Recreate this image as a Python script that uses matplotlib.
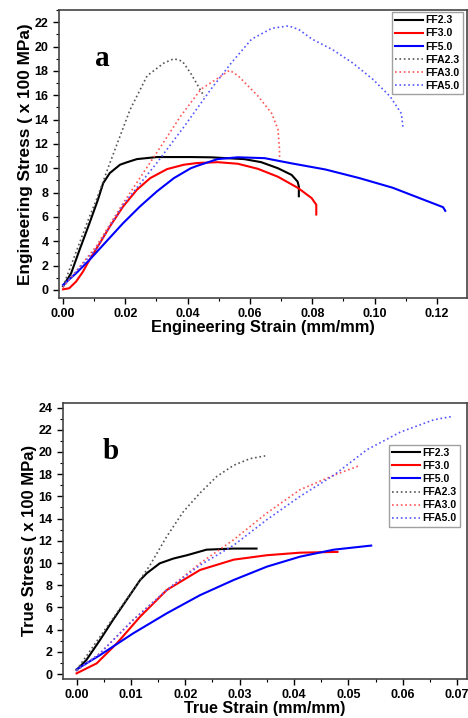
import numpy as np
import matplotlib
matplotlib.use("Agg")
import matplotlib.pyplot as plt
from matplotlib.ticker import MultipleLocator

plt.rcParams['font.family'] = ['Liberation Sans', 'DejaVu Sans']
plt.rcParams['font.weight'] = 'bold'

# ---- engineering curves (panel a) ----
eng_ff23_x = [0.0, 0.0026, 0.0053, 0.0085, 0.0112, 0.0129, 0.015, 0.0183, 0.0204, 0.0237, 0.0301, 0.041,
              0.0474, 0.0582, 0.0636, 0.069, 0.0734, 0.0753, 0.0757, 0.0757]
eng_ff23_y = [0.3, 1.37, 3.29, 5.49, 7.41, 8.78, 9.6, 10.29, 10.48, 10.75, 10.92, 10.92,
              10.9, 10.75, 10.5, 10.0, 9.45, 8.9, 8.5, 7.7]
eng_ff30_x = [0.0, 0.002, 0.0042, 0.0064, 0.0085, 0.0118, 0.015, 0.0193, 0.0237, 0.028, 0.0334, 0.0388,
              0.0431, 0.0496, 0.0561, 0.0626, 0.069, 0.0755, 0.0798, 0.0813, 0.0813]
eng_ff30_y = [0.05, 0.14, 0.69, 1.5, 2.47, 3.84, 5.2, 6.86, 8.23, 9.19, 9.93, 10.29,
              10.43, 10.5, 10.37, 9.95, 9.3, 8.37, 7.55, 7.0, 6.2]
eng_ff50_x = [0.0, 0.0042, 0.0085, 0.0139, 0.0193, 0.0247, 0.0301, 0.0356, 0.041, 0.0431, 0.0496,
              0.0561, 0.0647, 0.0734, 0.0842, 0.095, 0.1058, 0.1144, 0.122, 0.1227]
eng_ff50_y = [0.41, 1.37, 2.47, 3.98, 5.49, 6.86, 8.09, 9.19, 10.0, 10.2, 10.75,
              10.9, 10.83, 10.4, 9.9, 9.2, 8.4, 7.55, 6.8, 6.5]
eng_ffa23_x = [0.0, 0.0085, 0.0107, 0.015, 0.0215, 0.027, 0.0324, 0.0356, 0.0383, 0.041, 0.0453]
eng_ffa23_y = [0.27, 6.03, 7.4, 10.4, 14.8, 17.6, 18.65, 19.0, 18.8, 17.8, 15.9]
eng_ffa30_x = [0.0, 0.0107, 0.0193, 0.030, 0.0378, 0.0443, 0.0497, 0.0535, 0.0562, 0.0627, 0.067,
               0.069, 0.0695, 0.0695]
eng_ffa30_y = [0.2, 3.6, 7.13, 11.25, 14.3, 16.5, 17.4, 18.05, 17.6, 15.9, 14.5,
               13.2, 11.5, 10.8]
eng_ffa50_x = [0.0, 0.0107, 0.0193, 0.030, 0.0388, 0.0475, 0.054, 0.0605, 0.067, 0.0724, 0.0757, 0.080,
               0.0865, 0.093, 0.0995, 0.105, 0.1086, 0.1092]
eng_ffa50_y = [0.3, 3.4, 7.0, 10.4, 13.4, 16.5, 18.65, 20.6, 21.5, 21.7, 21.4, 20.6,
               19.75, 18.65, 17.3, 15.9, 14.5, 13.2]

# ---- true curves (panel b) ----
true_ff23_x = [0.0, 0.0018, 0.0043, 0.0067, 0.0092, 0.0117, 0.0129, 0.0153, 0.0178, 0.0203, 0.0239,
               0.0288, 0.0331]
true_ff23_y = [0.36, 1.26, 3.06, 4.87, 6.67, 8.47, 9.07, 9.97, 10.4, 10.7, 11.2,
               11.3, 11.3]
true_ff30_x = [0.0, 0.0037, 0.0074, 0.0117, 0.0166, 0.0227, 0.0289, 0.035, 0.0411, 0.048]
true_ff30_y = [0.06, 0.96, 2.76, 5.17, 7.57, 9.37, 10.3, 10.7, 10.93, 11.0]
true_ff50_x = [0.0, 0.0043, 0.0104, 0.0166, 0.0227, 0.0289, 0.035, 0.0411, 0.0473, 0.0542]
true_ff50_y = [0.42, 1.7, 3.66, 5.47, 7.1, 8.47, 9.67, 10.57, 11.2, 11.57]
true_ffa23_x = [0.0, 0.0043, 0.0104, 0.0135, 0.0166, 0.0196, 0.0227, 0.0258, 0.0289, 0.0319, 0.0347]
true_ffa23_y = [0.36, 3.36, 7.57, 9.8, 12.4, 14.6, 16.3, 17.8, 18.8, 19.4, 19.65]
true_ffa30_x = [0.0, 0.0043, 0.0104, 0.0166, 0.0227, 0.0289, 0.035, 0.0411, 0.0473, 0.0522]
true_ffa30_y = [0.3, 1.86, 4.87, 7.57, 9.97, 12.1, 14.5, 16.6, 17.9, 18.8]
true_ffa50_x = [0.0, 0.0043, 0.0104, 0.0166, 0.0227, 0.0289, 0.035, 0.0411, 0.0473, 0.0534, 0.0596,
                0.0657, 0.0691]
true_ffa50_y = [0.3, 1.86, 4.87, 7.57, 9.8, 11.6, 13.9, 16.0, 17.9, 20.2, 21.8,
                22.9, 23.2]

labels = ['FF2.3', 'FF3.0', 'FF5.0', 'FFA2.3', 'FFA3.0', 'FFA5.0']
colors = ['black', 'red', 'blue', '#555555', '#ff5555', '#5555ff']
styles = ['-', '-', '-', ':', ':', ':']


def style_axes(ax, xmaj, ymaj, xlim, ylim):
    ax.set_xlim(*xlim)
    ax.set_ylim(*ylim)
    ax.xaxis.set_major_locator(MultipleLocator(xmaj))
    ax.xaxis.set_minor_locator(MultipleLocator(xmaj / 2))
    ax.yaxis.set_major_locator(MultipleLocator(ymaj))
    ax.yaxis.set_minor_locator(MultipleLocator(ymaj / 2))
    ax.tick_params(which='major', direction='out', length=4, width=1, labelsize=9)
    ax.tick_params(which='minor', direction='out', length=2.5, width=0.8)
    for s in ax.spines.values():
        s.set_color('#444444')
        s.set_linewidth(1.2)
    for lab in ax.get_xticklabels() + ax.get_yticklabels():
        lab.set_fontweight('bold')


def draw(ax, xs, ys, anchor):
    for x, y, lab, c, ls in zip(xs, ys, labels, colors, styles):
        lw = 1.5 if ls == '-' else 1.2
        ax.plot(x, y, ls, color=c, lw=lw, label=lab)
    leg = ax.legend(loc='upper right', bbox_to_anchor=anchor, fontsize=7.5, frameon=True,
                    fancybox=False, handlelength=2.6, handletextpad=0.3, borderpad=0.3,
                    labelspacing=0.3, borderaxespad=0.2)
    leg.get_frame().set_edgecolor('#888888')
    leg.get_frame().set_linewidth(1.0)
    for t in leg.get_texts():
        t.set_fontweight('bold')


fig = plt.figure(figsize=(4.68, 7.18), dpi=100)

ax1 = fig.add_axes([0.126, 0.585, 0.872, 0.401])
draw(ax1, [eng_ff23_x, eng_ff30_x, eng_ff50_x, eng_ffa23_x, eng_ffa30_x, eng_ffa50_x],
     [eng_ff23_y, eng_ff30_y, eng_ff50_y, eng_ffa23_y, eng_ffa30_y, eng_ffa50_y], (0.995, 1.0))
style_axes(ax1, 0.02, 2, (-0.0013, 0.1297), (-0.66, 23.0))
ax1.set_xlabel('Engineering Strain (mm/mm)', fontsize=11.8, fontweight='bold', labelpad=0)
ax1.set_ylabel('Engineering Stress ( x 100 MPa)', fontsize=12.4, fontweight='bold', labelpad=1)
ax1.text(0.0103, 18.4, 'a', fontsize=21, fontweight='bold', family='Liberation Serif')

ax2 = fig.add_axes([0.1346, 0.0543, 0.863, 0.385])
draw(ax2, [true_ff23_x, true_ff30_x, true_ff50_x, true_ffa23_x, true_ffa30_x, true_ffa50_x],
     [true_ff23_y, true_ff30_y, true_ff50_y, true_ffa23_y, true_ffa30_y, true_ffa50_y], (0.988, 0.855))
style_axes(ax2, 0.01, 2, (-0.0025, 0.0718), (-0.45, 24.45))
ax2.set_xlabel('True Strain (mm/mm)', fontsize=11.6, fontweight='bold', labelpad=0)
ax2.set_ylabel('True Stress ( x 100 MPa)', fontsize=12, fontweight='bold', labelpad=1)
ax2.text(0.0048, 19.4, 'b', fontsize=21, fontweight='bold', family='Liberation Serif')

fig.savefig('out.png', dpi=100)
